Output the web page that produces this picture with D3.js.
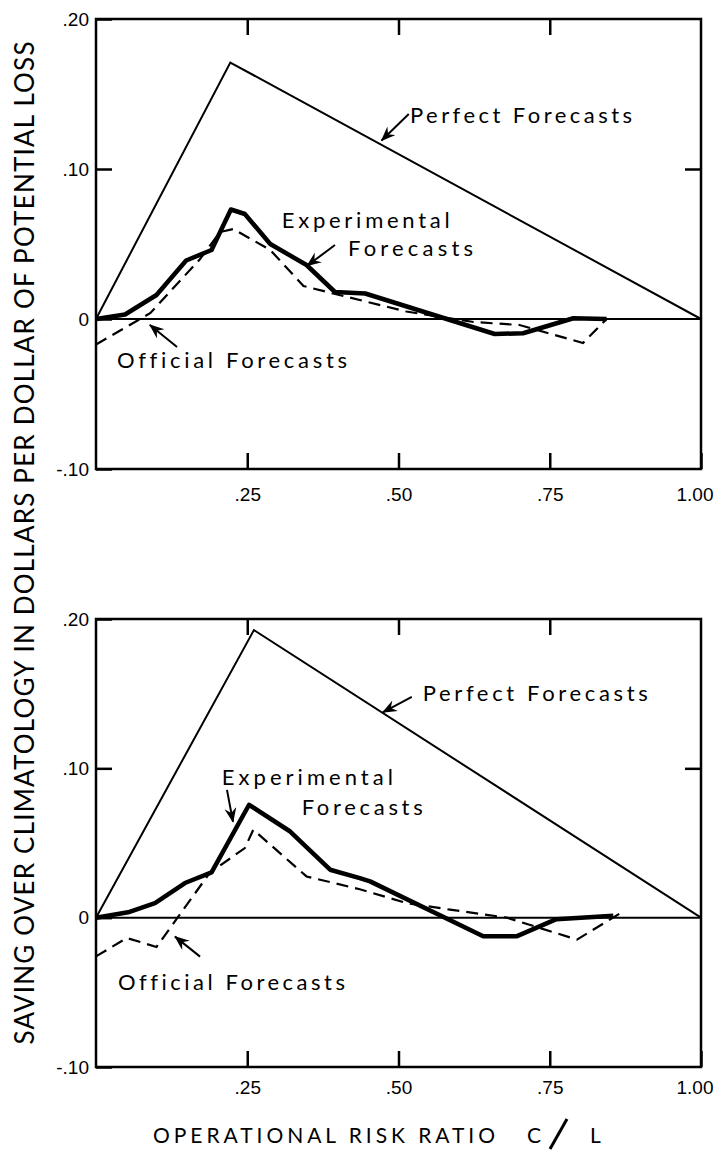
<!DOCTYPE html>
<html>
<head>
<meta charset="utf-8">
<script src="https://cdn.jsdelivr.net/npm/d3@7"></script>
<style>
  html, body { margin: 0; padding: 0; background: #fff; }
  text { font-variant-ligatures: none; font-feature-settings: "liga" 0; }
</style>
</head>
<body>
<div id="chart"></div>
<script>
// axis ticks
const xTicks = [0.25, 0.50, 0.75, 1.00];
const xTickLabels = [".25", ".50", ".75", "1.00"];
const yTicks = [-0.10, 0, 0.10, 0.20];
const yTickLabels = ["-.10", "0", ".10", ".20"];

// upper panel
const perfectTopX = [0, 0.222, 1.00];
const perfectTopY = [0, 0.171, 0];
const expTopX = [0, 0.048, 0.100, 0.149, 0.191, 0.204, 0.223, 0.246, 0.288, 0.348, 0.395, 0.445, 0.659, 0.706, 0.789, 0.844];
const expTopY = [0, 0.003, 0.016, 0.039, 0.046, 0.057, 0.073, 0.070, 0.050, 0.036, 0.018, 0.017, -0.010, -0.0095, 0.0005, 0];
const offTopX = [0, 0.090, 0.172, 0.205, 0.227, 0.288, 0.343, 0.392, 0.513, 0.624, 0.700, 0.805, 0.844];
const offTopY = [-0.017, 0.004, 0.040, 0.058, 0.060, 0.046, 0.022, 0.017, 0.005, -0.002, -0.004, -0.016, 0];

// lower panel
const perfectBotX = [0, 0.261, 1.00];
const perfectBotY = [0, 0.1926, 0];
const expBotX = [0, 0.053, 0.0975, 0.147, 0.191, 0.253, 0.321, 0.387, 0.436, 0.453, 0.640, 0.695, 0.761, 0.855];
const expBotY = [0, 0.0036, 0.0098, 0.0232, 0.0303, 0.0756, 0.0577, 0.0321, 0.0265, 0.0243, -0.0125, -0.0125, -0.001, 0.0013];
const offBotX = [0, 0.051, 0.100, 0.188, 0.246, 0.260, 0.348, 0.436, 0.513, 0.585, 0.679, 0.795, 0.869];
const offBotY = [-0.0259, -0.0136, -0.0196, 0.030, 0.0466, 0.0589, 0.0276, 0.019, 0.0098, 0.0054, 0, -0.0147, 0.0036];

(function () {
  const width = 715;
  const height = 1157;
  const font = "Lato, 'Open Sans', sans-serif";
  const numFont = "'Liberation Sans', Arial, sans-serif";

  const svg = d3.select("#chart")
    .append("svg")
    .attr("width", width)
    .attr("height", height);

  svg.append("defs").append("marker")
    .attr("id", "arrow")
    .attr("markerUnits", "userSpaceOnUse")
    .attr("markerWidth", 16)
    .attr("markerHeight", 14)
    .attr("refX", 14)
    .attr("refY", 6)
    .attr("orient", "auto")
    .append("path")
    .attr("d", "M0,0 L15,6 L0,12 L5,6 Z")
    .attr("fill", "#000");

  const x = d3.scaleLinear().domain([0, 1]).range([96, 701]);

  const panels = [
    {
      top: 19, bottom: 469, pad: 19,
      perfect: d3.zip(perfectTopX, perfectTopY),
      exp: d3.zip(expTopX, expTopY),
      off: d3.zip(offTopX, offTopY),
      notes: [
        { text: "Perfect Forecasts", x: 0.519, y: 0.136, len: 222 },
        { text: "Experimental", x: 0.307, y: 0.066, len: 168 },
        { text: "Forecasts", x: 0.4165, y: 0.0473, len: 125 },
        { text: "Official Forecasts", x: 0.0347, y: -0.0273, len: 230 }
      ],
      arrows: [
        { from: [0.517, 0.1367], to: [0.472, 0.119] },
        { from: [0.395, 0.0493], to: [0.349, 0.0355] },
        { from: [0.134, -0.0187], to: [0.089, -0.004] }
      ]
    },
    {
      top: 619, bottom: 1067, pad: 14,
      perfect: d3.zip(perfectBotX, perfectBotY),
      exp: d3.zip(expBotX, expBotY),
      off: d3.zip(offBotX, offBotY),
      notes: [
        { text: "Perfect Forecasts", x: 0.540, y: 0.1505, len: 225 },
        { text: "Experimental", x: 0.208, y: 0.0943, len: 171 },
        { text: "Forecasts", x: 0.340, y: 0.0742, len: 121 },
        { text: "Official Forecasts", x: 0.0364, y: -0.0428, len: 227 }
      ],
      arrows: [
        { from: [0.522, 0.1478], to: [0.474, 0.1375] },
        { from: [0.2165, 0.0856], to: [0.2264, 0.0642] },
        { from: [0.172, -0.0261], to: [0.1306, -0.0127] }
      ]
    }
  ];

  panels.forEach(p => {
    const y = d3.scaleLinear().domain([-0.10, 0.20]).range([p.bottom, p.top]);
    const g = svg.append("g");

    // inward ticks on all four sides
    const left = g.append("g")
      .attr("transform", `translate(${x(0)},0)`)
      .call(d3.axisLeft(y).tickValues(yTicks).tickSize(-16).tickSizeOuter(0)
        .tickPadding(7).tickFormat((d, i) => yTickLabels[i]));
    const right = g.append("g")
      .attr("transform", `translate(${x(1)},0)`)
      .call(d3.axisRight(y).tickValues([0.10]).tickSize(-16).tickSizeOuter(0).tickFormat(""));
    const top = g.append("g")
      .attr("transform", `translate(0,${y(0.20)})`)
      .call(d3.axisTop(x).tickValues(xTicks.slice(0, 3)).tickSize(-16).tickSizeOuter(0).tickFormat(""));
    const bottom = g.append("g")
      .attr("transform", `translate(0,${y(-0.10)})`)
      .call(d3.axisBottom(x).tickValues(xTicks).tickSize(-16).tickSizeOuter(0)
        .tickPadding(p.pad).tickFormat((d, i) => xTickLabels[i]));

    [left, right, top, bottom].forEach(a => {
      a.select(".domain").remove();
      a.selectAll(".tick line").attr("stroke", "#000").attr("stroke-width", 2.5);
      a.selectAll("text")
        .attr("fill", "#000")
        .style("font-family", numFont)
        .style("font-size", "19px");
    });

    // last label sits inside the page edge
    bottom.selectAll(".tick text")
      .filter(d => d === 1)
      .attr("text-anchor", "end")
      .attr("x", 12);

    // frame
    g.append("rect")
      .attr("x", x(0))
      .attr("y", y(0.20))
      .attr("width", x(1) - x(0))
      .attr("height", y(-0.10) - y(0.20))
      .attr("fill", "none")
      .attr("stroke", "#000")
      .attr("stroke-width", 2.5);

    // zero line
    g.append("line")
      .attr("x1", x(0)).attr("x2", x(1))
      .attr("y1", y(0)).attr("y2", y(0))
      .attr("stroke", "#000")
      .attr("stroke-width", 2);

    const line = d3.line().x(d => x(d[0])).y(d => y(d[1]));

    g.append("path")
      .attr("d", line(p.perfect))
      .attr("fill", "none")
      .attr("stroke", "#000")
      .attr("stroke-width", 2);

    g.append("path")
      .attr("d", line(p.off))
      .attr("fill", "none")
      .attr("stroke", "#000")
      .attr("stroke-width", 2.2)
      .attr("stroke-dasharray", "12,7");

    g.append("path")
      .attr("d", line(p.exp))
      .attr("fill", "none")
      .attr("stroke", "#000")
      .attr("stroke-width", 4.5)
      .attr("stroke-linejoin", "round");

    g.selectAll("text.note")
      .data(p.notes)
      .enter()
      .append("text")
      .attr("class", "note")
      .attr("x", d => x(d.x))
      .attr("y", d => y(d.y))
      .attr("dy", "0.36em")
      .attr("textLength", d => d.len)
      .attr("lengthAdjust", "spacing")
      .text(d => d.text)
      .style("font-family", font)
      .style("font-size", "22px")
      .style("fill", "#000");

    g.selectAll("line.arrow")
      .data(p.arrows)
      .enter()
      .append("line")
      .attr("class", "arrow")
      .attr("x1", d => x(d.from[0]))
      .attr("y1", d => y(d.from[1]))
      .attr("x2", d => x(d.to[0]))
      .attr("y2", d => y(d.to[1]))
      .attr("stroke", "#000")
      .attr("stroke-width", 2)
      .attr("marker-end", "url(#arrow)");
  });

  // y axis title
  svg.append("text")
    .attr("transform", "translate(34,543) rotate(-90)")
    .attr("text-anchor", "middle")
    .attr("textLength", 1003)
    .attr("lengthAdjust", "spacing")
    .text("SAVING OVER CLIMATOLOGY IN DOLLARS PER DOLLAR OF POTENTIAL LOSS")
    .style("font-family", font)
    .style("font-size", "26px")
    .style("fill", "#000");

  // x axis title
  const xt = svg.append("g").attr("transform", "translate(0,1143)");
  xt.append("text")
    .attr("x", 153)
    .attr("textLength", 342)
    .attr("lengthAdjust", "spacing")
    .text("OPERATIONAL RISK RATIO")
    .style("font-family", font)
    .style("font-size", "21px")
    .style("fill", "#000");
  xt.append("text")
    .attr("x", 527)
    .text("C")
    .style("font-family", font)
    .style("font-size", "21px");
  xt.append("line")
    .attr("x1", 550).attr("y1", 6)
    .attr("x2", 567).attr("y2", -24)
    .attr("stroke", "#000")
    .attr("stroke-width", 3);
  xt.append("text")
    .attr("x", 590)
    .text("L")
    .style("font-family", font)
    .style("font-size", "21px");
})();
</script>
</body>
</html>
